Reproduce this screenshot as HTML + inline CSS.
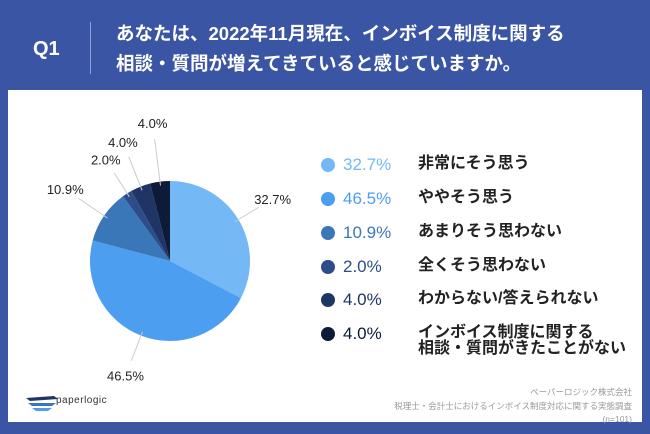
<!DOCTYPE html>
<html><head><meta charset="utf-8"><style>
body{margin:0;width:650px;height:434px;background:#3a55a4;font-family:"Liberation Sans","Noto Sans CJK JP",sans-serif;position:relative;overflow:hidden}
.abs{position:absolute}
#panel{left:8px;top:90px;width:634px;height:332px;background:#fff}
.hd{color:#fff;font-weight:bold}
.lg{position:absolute;font-size:16px;font-weight:bold;color:#222;white-space:nowrap}
.pc{position:absolute;font-size:17px;white-space:nowrap}
.dot{position:absolute;width:14px;height:14px;border-radius:50%}
.ft{right:18px;font-size:8.5px;color:#999;text-align:right;white-space:nowrap}
</style></head><body>
<div class="abs hd" style="left:33px;top:38px;font-size:20px">Q1</div>
<div class="abs" style="left:90px;top:22px;width:1px;height:52px;background:#8fa3d6"></div>
<div class="abs hd" style="left:116px;top:19px;font-size:18.5px;line-height:30px">あなたは、2022年11月現在、インボイス制度に関する<br>相談・質問が増えてきていると感じていますか。</div>
<div id="panel" class="abs"></div>
<svg class="abs" id="chart" style="left:0;top:0" width="650" height="434"></svg>
<div id="legend"></div>
<svg class="abs" style="left:24px;top:392px" width="36" height="22">
<path d="M2 6 L30 4 L34 7 L6 9Z" fill="#1f3566"/><path d="M4 11 L32 11 L28 14 L8 14Z" fill="#3a77b8"/><path d="M8 16 L28 16 L24 19 L12 19Z" fill="#4c9ef0"/></svg>
<div class="abs" style="left:56px;top:395px;font-size:10px;color:#333;letter-spacing:0.5px">paperlogic</div>
<div class="abs ft" style="top:386px">ペーパーロジック株式会社</div>
<div class="abs ft" style="top:400px">税理士・会計士におけるインボイス制度対応に関する実態調査</div>
<div class="abs ft" style="top:414px">(n=101)</div>
<script>
const categories=["非常にそう思う","ややそう思う","あまりそう思わない","全くそう思わない","わからない/答えられない","インボイス制度に関する<br>相談・質問がきたことがない"];
const values=[32.7,46.5,10.9,2.0,4.0,4.0];
const labels=["32.7%","46.5%","10.9%","2.0%","4.0%","4.0%"];
const colors=["#74b8f5","#4c9ef0","#3a77b8","#2c4c8a","#1f3566","#0d1a38"];
const cx=170,cy=261,R=80,labR=[120,123,127,120,128,139];
const svg=document.getElementById('chart');const NS="http://www.w3.org/2000/svg";
const total=values.reduce((a,b)=>a+b,0);
function pt(a,r){return [cx+r*Math.sin(a),cy-r*Math.cos(a)];}
let acc=0;
values.forEach((v,i)=>{
 const a0=acc/total*2*Math.PI;acc+=v;const a1=acc/total*2*Math.PI;
 const p0=pt(a0,R),p1=pt(a1,R);
 const path=document.createElementNS(NS,'path');
 path.setAttribute('d',`M${cx},${cy} L${p0[0]},${p0[1]} A${R},${R} 0 ${a1-a0>Math.PI?1:0} 1 ${p1[0]},${p1[1]}Z`);
 path.setAttribute('fill',colors[i]);
 
 
 svg.appendChild(path);
 const am=(a0+a1)/2;const l0=pt(am,R-4),l1=pt(am,labR[i]-16);
 const ln=document.createElementNS(NS,'line');
 ln.setAttribute('x1',l0[0]);ln.setAttribute('y1',l0[1]);ln.setAttribute('x2',l1[0]);ln.setAttribute('y2',l1[1]);
 ln.setAttribute('stroke','#ccc');ln.setAttribute('stroke-width','1');
 
 
 svg.appendChild(ln);
 const lp=pt(am,labR[i]);
 const t=document.createElementNS(NS,'text');
 t.setAttribute('x',lp[0]);t.setAttribute('y',lp[1]+5);t.setAttribute('text-anchor','middle');
 t.setAttribute('font-size','13');t.setAttribute('fill','#222');
 t.textContent=labels[i];
 
 
 svg.appendChild(t);
});
const lg=document.getElementById('legend');const rows=[165,199,233,267,300,334];
values.forEach((v,i)=>{
 const d=document.createElement('div');d.className='dot';d.style.left='321px';d.style.top=(rows[i]-7)+'px';d.style.background=colors[i];
 
 
 lg.appendChild(d);
 const p=document.createElement('div');p.className='pc';p.style.left='343px';p.style.top=(rows[i]-10)+'px';p.style.color=colors[i];p.textContent=labels[i];
 
 
 lg.appendChild(p);
 const c=document.createElement('div');c.className='lg';c.style.left='418px';c.style.top=(rows[i]-9)+'px';c.style.lineHeight='16px';c.innerHTML=categories[i];
 
 
 lg.appendChild(c);
});
</script>
</body></html>
